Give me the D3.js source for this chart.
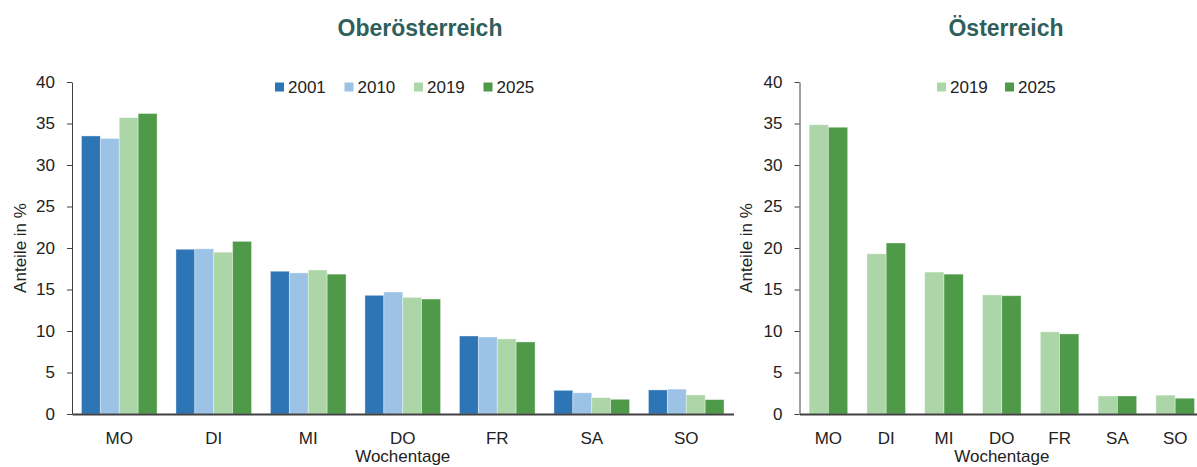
<!DOCTYPE html>
<html>
<head>
<meta charset="utf-8">
<script src="https://cdn.jsdelivr.net/npm/d3@7"></script>
<style>
    body { margin: 0; background: #fff; }
    text { font-family: "Liberation Sans", Arial, sans-serif; }
    .axis path, .axis line { stroke: #404040; }
    .axis text { font-size: 17px; fill: #222; }
</style>
</head>
<body>
<div id="chart-area"></div>
<script>
// Wochentage
const days = ['MO', 'DI', 'MI', 'DO', 'FR', 'SA', 'SO']
const yTicks = [0, 5, 10, 15, 20, 25, 30, 35, 40]

// Oberösterreich
const yearsOoe = ['2001', '2010', '2019', '2025']
const ooe2001 = [33.5, 19.85, 17.2, 14.3, 9.4, 2.85, 2.9]
const ooe2010 = [33.2, 19.9, 17.0, 14.7, 9.28, 2.55, 3.0]
const ooe2019 = [35.7, 19.5, 17.35, 14.05, 9.05, 1.97, 2.3]
const ooe2025 = [36.2, 20.8, 16.85, 13.85, 8.68, 1.77, 1.73]

// Österreich
const yearsAt = ['2019', '2025']
const at2019 = [34.85, 19.3, 17.1, 14.35, 9.9, 2.17, 2.27]
const at2025 = [34.55, 20.6, 16.85, 14.25, 9.65, 2.17, 1.9]

const colors = { '2001': '#2e75b5', '2010': '#9cc3e6', '2019': '#acd6a8', '2025': '#4e9a48' }

const W = 1197, H = 467

const svg = d3.select('#chart-area').append('svg')
    .attr('width', W)
    .attr('height', H)

function drawChart(opt) {
    const height = 332
    const group = svg.append('g')
        .attr('transform', `translate(${opt.left}, 82)`)

    const scaleY = d3.scaleLinear()
        .domain([0, 40])
        .range([height, 0])

    const scaleX = d3.scaleBand()
        .domain(days)
        .range([0, opt.width])
        .paddingInner(opt.padInner)
        .paddingOuter(opt.padOuter)

    const scaleSeries = d3.scaleBand()
        .domain(opt.years)
        .range([0, scaleX.bandwidth()])

    const rows = days.map((day, i) => ({ day, values: opt.years.map((y, j) => ({ year: y, value: opt.series[j][i] })) }))

    group.selectAll('g.day').data(rows)
        .enter().append('g')
        .attr('class', 'day')
        .attr('transform', d => `translate(${scaleX(d.day)}, 0)`)
        .selectAll('rect').data(d => d.values)
        .enter().append('rect')
        .attr('x', d => scaleSeries(d.year))
        .attr('y', d => scaleY(d.value))
        .attr('width', scaleSeries.bandwidth())
        .attr('height', d => height - scaleY(d.value))
        .attr('fill', d => colors[d.year])
        .attr('stroke', 'rgba(255,255,255,0.45)')
        .attr('stroke-width', 0.8)

    const yAxisCall = d3.axisLeft(scaleY)
        .tickValues(yTicks)
        .tickSize(5)
        .tickSizeOuter(0)
        .tickPadding(12)
    group.append('g')
        .attr('class', 'y axis')
        .call(yAxisCall)

    const xAxisCall = d3.axisBottom(scaleX)
        .tickSize(0)
        .tickSizeOuter(0)
        .tickPadding(18)
    const xAxis = group.append('g')
        .attr('class', 'x axis')
        .attr('transform', `translate(0, ${height})`)
        .call(xAxisCall)
    xAxis.select('.domain').attr('stroke-width', 2)

    group.append('text')
        .attr('x', opt.width / 2)
        .attr('y', height + 48)
        .attr('font-size', '17px')
        .attr('fill', '#222')
        .attr('text-anchor', 'middle')
        .text('Wochentage')

    group.append('text')
        .attr('x', -height / 2)
        .attr('y', opt.yLabelX - opt.left)
        .attr('font-size', '17px')
        .attr('fill', '#222')
        .attr('text-anchor', 'middle')
        .attr('transform', 'rotate(-90)')
        .text('Anteile in %')

    svg.append('text')
        .attr('x', opt.titleX)
        .attr('y', 36)
        .attr('font-size', '23px')
        .attr('font-weight', 'bold')
        .attr('fill', '#2f5f5c')
        .attr('text-anchor', 'middle')
        .text(opt.title)

    const legend = svg.selectAll(null).data(opt.years)
        .enter().append('g')
        .attr('transform', (d, i) => `translate(${opt.legendX + i * opt.legendStep}, 87)`)
    legend.append('rect')
        .attr('x', 0)
        .attr('y', -4.5)
        .attr('width', 9)
        .attr('height', 9)
        .attr('fill', d => colors[d])
    legend.append('text')
        .attr('x', 13)
        .attr('y', 6)
        .attr('font-size', '17px')
        .attr('fill', '#222')
        .text(d => d)
}

drawChart({
    title: 'Oberösterreich', titleX: 420,
    left: 72, width: 661.5, padInner: 0.2, padOuter: 0.1,
    years: yearsOoe, series: [ooe2001, ooe2010, ooe2019, ooe2025],
    legendX: 275, legendStep: 69.5, yLabelX: 26
})

drawChart({
    title: 'Österreich', titleX: 1006,
    left: 799.5, width: 404.6, padInner: 1 / 3, padOuter: 1 / 6,
    years: yearsAt, series: [at2019, at2025],
    legendX: 937, legendStep: 68, yLabelX: 752
})
</script>
</body>
</html>
